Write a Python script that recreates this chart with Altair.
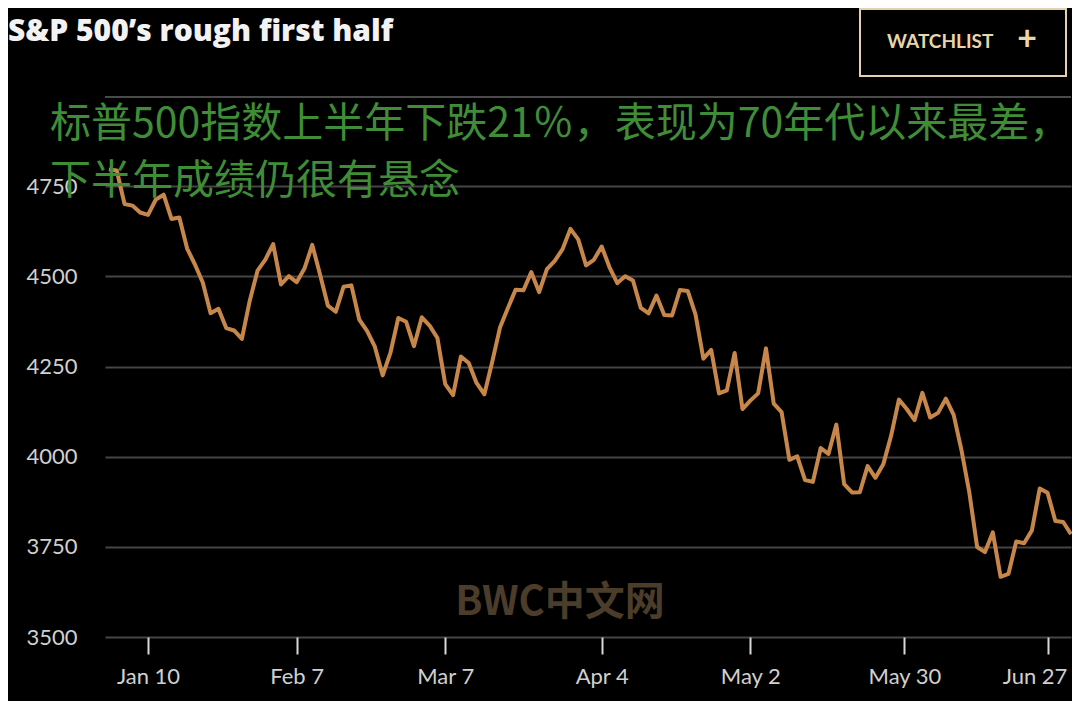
import altair as alt
import pandas as pd

# ---- data (S&P 500 daily closes, first half 2022) ----
dates = [
    "Jan 3","Jan 4","Jan 5","Jan 6","Jan 7","Jan 10","Jan 11","Jan 12","Jan 13","Jan 14",
    "Jan 18","Jan 19","Jan 20","Jan 21","Jan 24","Jan 25","Jan 26","Jan 27","Jan 28","Jan 31",
    "Feb 1","Feb 2","Feb 3","Feb 4","Feb 7","Feb 8","Feb 9","Feb 10","Feb 11","Feb 14",
    "Feb 15","Feb 16","Feb 17","Feb 18","Feb 22","Feb 23","Feb 24","Feb 25","Feb 28",
    "Mar 1","Mar 2","Mar 3","Mar 4","Mar 7","Mar 8","Mar 9","Mar 10","Mar 11","Mar 14",
    "Mar 15","Mar 16","Mar 17","Mar 18","Mar 21","Mar 22","Mar 23","Mar 24","Mar 25",
    "Mar 28","Mar 29","Mar 30","Mar 31",
    "Apr 1","Apr 4","Apr 5","Apr 6","Apr 7","Apr 8","Apr 11","Apr 12","Apr 13","Apr 14",
    "Apr 18","Apr 19","Apr 20","Apr 21","Apr 22","Apr 25","Apr 26","Apr 27","Apr 28","Apr 29",
    "May 2","May 3","May 4","May 5","May 6","May 9","May 10","May 11","May 12","May 13",
    "May 16","May 17","May 18","May 19","May 20","May 23","May 24","May 25","May 26","May 27",
    "May 31",
    "Jun 1","Jun 2","Jun 3","Jun 6","Jun 7","Jun 8","Jun 9","Jun 10","Jun 13","Jun 14",
    "Jun 15","Jun 16","Jun 17","Jun 21","Jun 22","Jun 23","Jun 24","Jun 27","Jun 28",
    "Jun 29","Jun 30",
]
closes = [
    4796.6, 4793.5, 4700.6, 4696.1, 4677.0, 4670.3, 4713.1, 4726.4, 4659.0, 4662.9,
    4577.1, 4532.8, 4482.7, 4397.9, 4410.1, 4356.5, 4349.9, 4326.5, 4431.9, 4515.6,
    4546.5, 4589.4, 4477.4, 4500.5, 4483.9, 4521.5, 4587.2, 4504.1, 4418.6, 4401.7,
    4471.1, 4475.0, 4380.3, 4348.9, 4304.8, 4225.5, 4288.7, 4384.7, 4373.9,
    4306.3, 4386.5, 4363.5, 4328.9, 4201.1, 4170.7, 4277.9, 4259.5, 4204.3, 4173.1,
    4262.5, 4357.9, 4411.7, 4463.1, 4461.2, 4511.6, 4456.2, 4520.2, 4543.1,
    4575.5, 4631.6, 4602.5, 4530.4,
    4545.9, 4582.6, 4525.1, 4481.2, 4500.2, 4488.3, 4412.5, 4397.5, 4446.6, 4392.6,
    4391.7, 4462.2, 4459.5, 4393.7, 4271.8, 4296.1, 4175.2, 4184.0, 4287.5, 4131.9,
    4155.4, 4175.5, 4300.2, 4146.9, 4123.3, 3991.2, 4001.1, 3935.2, 3930.1, 4023.9,
    4008.0, 4088.9, 3923.7, 3900.8, 3901.4, 3973.8, 3941.5, 3978.7, 4057.8, 4158.2,
    4132.2,
    4101.2, 4176.8, 4108.5, 4121.4, 4160.7, 4115.8, 4017.8, 3900.9, 3749.6, 3735.5,
    3790.0, 3666.8, 3674.8, 3764.8, 3759.9, 3795.7, 3911.7, 3900.1, 3821.6,
    3818.8, 3785.4,
]
x_tick_pos = [5, 24, 43, 63, 82, 101.7, 120]
x_tick_labels = ["Jan 10", "Feb 7", "Mar 7", "Apr 4", "May 2", "May 30", "Jun 27"]
y_ticks = [3500, 3750, 4000, 4250, 4500, 4750]
top_grid = 5000

title_text = ["S&P 500’s rough first half"]
button_text = ["WATCHLIST"]
plus_text = ["+"]
overlay_line1 = ["标普500指数上半年下跌21％，表现为70年代以来最差，"]
overlay_line2 = ["下半年成绩仍很有悬念"]
watermark = ["BWC中文网"]

df = pd.DataFrame({"date": dates, "close": closes, "idx": list(range(len(dates)))})

label_map = "{" + ",".join(f"'{p}':'{l}'" for p, l in zip(x_tick_pos, x_tick_labels)) + "}"

W, H = 966, 541
yscale = alt.Scale(domain=[3500, 5000], nice=False, zero=False)
yaxis = alt.Axis(values=y_ticks, format="d",
                 title=None, grid=True, gridColor="#454545", gridWidth=2,
                 domain=False, ticks=False,
                 labelColor="#d0d0d0", labelFont="Lato", labelFontSize=22,
                 labelPadding=28, labelOverlap=False)

line = alt.Chart(df).mark_line(color="#c8874a", strokeWidth=4, strokeJoin="round").encode(
    x=alt.X("idx:Q",
            scale=alt.Scale(domain=[-0.5, 123], nice=False, zero=False),
            axis=alt.Axis(values=x_tick_pos, labelExpr=f"{label_map}[''+datum.value]",
                          title=None, grid=False, domain=False,
                          ticks=True, tickSize=17, tickWidth=2, tickColor="#d8d8d8",
                          labelColor="#d0d0d0", labelFont="Lato", labelFontSize=22,
                          labelPadding=12, labelFlush=False, labelOverlap=False,
                          labelOffset={"condition": {"test": "datum.value >= 120", "value": -13},
                                       "value": 0})),
    y=alt.Y("close:Q", scale=yscale, axis=yaxis),
    tooltip=["date:N", "close:Q"],
)

# top gridline (5000 level), drawn as a rule along the top of the plot area
top_rule = alt.Chart(pd.DataFrame({"g": [top_grid]})).mark_rule(
    color="#4a4a4a", strokeWidth=2,
).encode(x=alt.value(0), x2=alt.value(W), y=alt.value(1))

title = alt.Chart(pd.DataFrame({"t": title_text})).mark_text(
    align="left", baseline="alphabetic", font="Open Sans", fontWeight=800,
    fontSize=30, color="#f2f2f2",
).encode(text="t:N", x=alt.value(-97), y=alt.value(-55))

button = alt.Chart(pd.DataFrame({"t": button_text})).mark_rect(
    fill="#000000", stroke="#e3d2ad", strokeWidth=2,
).encode(x=alt.value(755), x2=alt.value(961), y=alt.value(-87), y2=alt.value(-20))

button_lbl = alt.Chart(pd.DataFrame({"t": button_text})).mark_text(
    align="left", baseline="alphabetic", font="Lato", fontWeight="bold",
    fontSize=19, color="#e8d6a8",
).encode(text="t:N", x=alt.value(782), y=alt.value(-48))

plus_lbl = alt.Chart(pd.DataFrame({"t": plus_text})).mark_text(
    align="center", baseline="middle", font="Lato", fontWeight="bold",
    fontSize=34, color="#e8d6a8",
).encode(text="t:N", x=alt.value(922), y=alt.value(-56))

overlay1 = alt.Chart(pd.DataFrame({"t": overlay_line1})).mark_text(
    align="left", baseline="middle", font="Noto Sans CJK SC",
    fontSize=41, color="#3f8d36",
).encode(text="t:N", x=alt.value(-55), y=alt.value(29))

overlay2 = alt.Chart(pd.DataFrame({"t": overlay_line2})).mark_text(
    align="left", baseline="middle", font="Noto Sans CJK SC",
    fontSize=41, color="#3f8d36",
).encode(text="t:N", x=alt.value(-55), y=alt.value(86))

wm = alt.Chart(pd.DataFrame({"t": watermark})).mark_text(
    align="center", baseline="middle", font="Noto Sans CJK SC", fontWeight="bold",
    fontSize=40, color="#4b3d29",
).encode(text="t:N", x=alt.value(455), y=alt.value(507))

chart = alt.layer(wm, line, top_rule, overlay1, overlay2, title, button, button_lbl, plus_lbl).properties(
    width=W, height=H,
    autosize=alt.AutoSizeParams(type="none"),
    padding={"left": 97, "top": 88, "right": 1, "bottom": 64},
    background="#000000",
).configure_view(stroke=None)

chart.save("out.html", embed_options={"renderer": "svg", "actions": False})
